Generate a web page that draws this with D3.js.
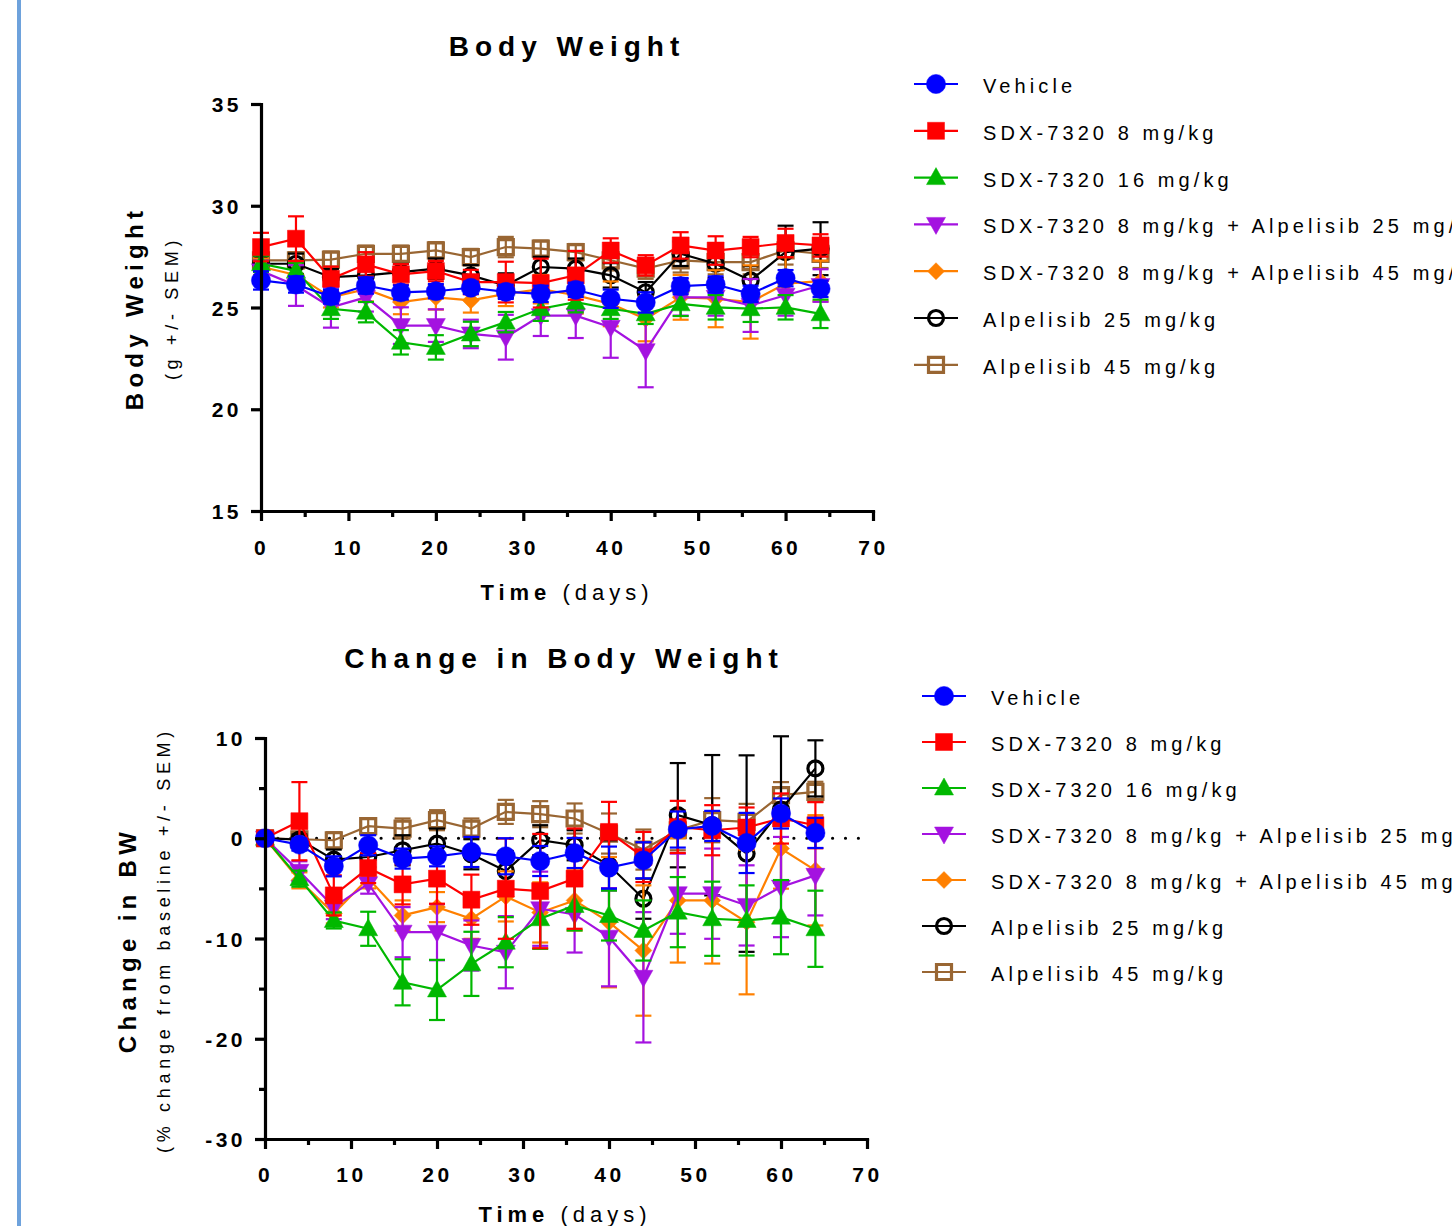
<!DOCTYPE html>
<html><head><meta charset="utf-8">
<script src="https://cdn.jsdelivr.net/npm/d3@7"></script>
<style>
body{margin:0;background:#fff;overflow:hidden}
svg{display:block}
text{font-family:"Liberation Sans",Arial,sans-serif;fill:#000}
</style></head>
<body><svg id="c" width="1452" height="1226"></svg>
<script>
// ---------- DATA ----------
const days = [0,4,8,12,16,20,24,28,32,36,40,44,48,52,56,60,64];
const seriesNames = ["Vehicle","SDX-7320 8 mg/kg","SDX-7320 16 mg/kg","SDX-7320 8 mg/kg + Alpelisib 25 mg/kg","SDX-7320 8 mg/kg + Alpelisib 45 mg/kg","Alpelisib 25 mg/kg","Alpelisib 45 mg/kg"];
const seriesColors = ["#0000ff","#ff0000","#00b800","#a412e0","#ff8000","#000000","#996633"];
const seriesShapes = ["circle","square","triangle","triangleDown","diamond","openCircle","openSquare"];

// Body weight (g)
const bwVehicle = [26.33,26.13,25.54,26.08,25.74,25.80,25.97,25.77,25.67,25.87,25.43,25.25,26.05,26.13,25.67,26.44,25.92];
const bwSdx8    = [27.97,28.38,26.41,27.12,26.63,26.79,26.25,26.25,26.20,26.58,27.80,27.07,28.05,27.80,27.97,28.17,28.05];
const bwSdx16   = [27.15,26.80,24.94,24.77,23.29,23.04,23.70,24.28,24.94,25.26,24.94,24.69,25.18,25.01,24.94,25.01,24.69];
const bwCombo25 = [26.80,26.08,25.01,25.50,24.11,24.11,23.70,23.54,24.60,24.60,24.03,22.88,25.50,25.50,25.10,25.60,26.08];
const bwCombo45 = [27.00,26.60,25.50,25.90,25.27,25.50,25.35,25.67,25.90,25.60,25.18,24.44,25.50,25.43,25.27,26.17,26.30];
const bwAlp25   = [27.15,27.15,26.49,26.58,26.74,26.91,26.58,26.08,26.99,26.91,26.58,25.75,27.64,27.15,26.33,27.72,27.89];
const bwAlp45   = [27.32,27.32,27.35,27.64,27.64,27.81,27.48,27.97,27.89,27.72,27.32,26.91,27.32,27.23,27.23,27.81,27.64];
// Body weight SEM
const bwVehicleSem = [0.45,0.4,0.35,0.4,0.35,0.35,0.3,0.35,0.4,0.35,0.45,0.5,0.4,0.4,0.4,0.4,0.4];
const bwSdx8Sem    = [0.7,1.1,0.6,0.6,0.5,0.5,0.6,1.0,1.2,1.2,0.6,0.5,0.65,0.7,0.5,0.7,0.55];
const bwSdx16Sem   = [0.4,0.4,0.5,0.5,0.6,0.6,0.6,0.5,0.6,0.5,0.5,0.5,0.6,0.6,0.65,0.6,0.7];
const bwCombo25Sem = [0.5,1.0,1.0,0.7,0.9,0.8,0.7,1.1,1.0,1.1,1.5,1.8,0.9,0.9,1.3,1.0,0.8];
const bwCombo45Sem = [0.4,0.5,0.5,0.6,0.6,0.6,0.6,0.6,0.7,0.9,1.1,1.1,1.1,1.4,1.8,1.3,1.0];
const bwAlp25Sem   = [0.4,0.5,0.4,0.4,0.4,0.5,0.5,0.6,0.5,0.5,0.6,0.5,0.6,0.7,0.7,1.3,1.3];
const bwAlp45Sem   = [0.3,0.4,0.4,0.4,0.4,0.4,0.4,0.5,0.4,0.4,0.5,0.5,0.6,0.6,0.6,0.7,0.7];

// Change in body weight (%)
const chVehicle = [0,-0.63,-2.8,-0.7,-2.03,-1.8,-1.37,-1.8,-2.27,-1.47,-2.93,-2.2,0.87,1.23,-0.47,2.47,0.53];
const chSdx8    = [0,1.7,-5.7,-2.97,-4.6,-4.03,-6.13,-5.03,-5.27,-4.03,0.63,-1.87,1.13,0.8,1.07,1.97,1.3];
const chSdx16   = [0,-4.03,-8.2,-9.03,-14.37,-15.13,-12.53,-10.37,-8.03,-6.7,-7.7,-9.2,-7.37,-8.03,-8.2,-7.87,-9.03];
const chCombo25 = [0,-3.3,-6.87,-4.53,-9.37,-9.37,-10.7,-11.37,-7.03,-7.6,-9.87,-13.87,-5.53,-5.53,-6.7,-4.87,-3.7];
const chCombo45 = [0,-4.2,-7.5,-4.0,-7.7,-6.87,-8.03,-5.8,-7.4,-6.2,-8.37,-11.2,-6.2,-6.2,-8.37,-1.03,-3.2];
const chAlp25   = [0,-0.13,-2.13,-1.87,-1.2,-0.53,-1.6,-3.27,-0.2,-0.7,-2.7,-6.03,2.3,1.3,-1.53,2.87,6.97];
const chAlp45   = [0,-0.1,-0.2,1.2,0.97,1.8,0.97,2.63,2.4,1.97,0.47,-1.13,0.8,1.8,1.63,4.3,4.63];
// Change SEM
const chVehicleSem = [0,0.6,1.0,1.0,1.0,1.0,1.5,1.8,1.5,1.5,2.1,1.8,1.8,1.5,3.0,1.5,1.5];
const chSdx8Sem    = [0,3.9,2.0,1.5,2.0,2.5,2.5,5.0,5.7,5.0,3.0,2.5,2.6,2.5,2.0,2.5,2.3];
const chSdx16Sem   = [0,0.8,0.8,1.7,2.3,3.0,3.2,2.5,3.0,2.5,2.5,3.0,3.5,3.7,3.5,3.7,3.8];
const chCombo25Sem = [0,1.0,1.2,1.0,2.5,2.8,2.5,3.6,3.7,3.8,4.9,6.5,4.0,4.5,4.0,5.0,4.0];
const chCombo45Sem = [0,0.8,1.0,1.0,1.5,1.5,2.0,2.5,3.0,3.0,6.5,6.5,6.2,6.3,7.2,4.0,5.5];
const chAlp25Sem   = [0,0.5,1.0,1.0,1.5,1.5,1.5,2.0,1.5,1.5,2.5,2.0,5.2,7.0,9.8,7.3,2.8];
const chAlp45Sem   = [0,0.5,0.8,0.8,1.0,1.0,1.0,1.2,1.3,1.5,2.0,2.0,2.0,2.2,1.8,1.3,1.0];

const xTicks = [0,10,20,30,40,50,60,70];
const xMinorTicks = [5,15,25,35,45,55,65];
const bwYTicks = [15,20,25,30,35];
const chYTicks = [-30,-20,-10,0,10];
const chYMinorTicks = [-25,-15,-5,5];

const bwValues = [bwVehicle,bwSdx8,bwSdx16,bwCombo25,bwCombo45,bwAlp25,bwAlp45];
const bwSems = [bwVehicleSem,bwSdx8Sem,bwSdx16Sem,bwCombo25Sem,bwCombo45Sem,bwAlp25Sem,bwAlp45Sem];
const chValues = [chVehicle,chSdx8,chSdx16,chCombo25,chCombo45,chAlp25,chAlp45];
const chSems = [chVehicleSem,chSdx8Sem,chSdx16Sem,chCombo25Sem,chCombo45Sem,chAlp25Sem,chAlp45Sem];

// ---------- DRAW ----------
const svg = d3.select("#c");
svg.append("rect").attr("x",17).attr("y",0).attr("width",4).attr("height",1226).attr("fill","#6ea2dc");

function markerPath(shape){
  switch(shape){
    case "circle": return d3.symbol(d3.symbolCircle, 290)();
    case "square": return "M-8.5,-8.5H8.5V8.5H-8.5Z";
    case "triangle": return "M0,-10L9.5,7L-9.5,7Z";
    case "triangleDown": return "M0,10L9.5,-7L-9.5,-7Z";
    case "diamond": return "M0,-8.5L8.5,0L0,8.5L-8.5,0Z";
    case "openCircle": return d3.symbol(d3.symbolCircle, Math.PI*7.5*7.5)();
    case "openSquare": return "M-7.5,-7.5H7.5V7.5H-7.5Z";
  }
}
function styleMarker(sel, i){
  const open = seriesShapes[i].startsWith("open");
  sel.attr("d", markerPath(seriesShapes[i]))
     .attr("fill", open ? "none" : seriesColors[i])
     .attr("stroke", seriesColors[i])
     .attr("stroke-width", open ? 3.2 : 0.5);
}
const fmt = d => String(d);

function drawChart(cfg){
  const g = svg.append("g");
  const x = d3.scaleLinear().domain([0,70]).range(cfg.xRange);
  const y = d3.scaleLinear().domain(cfg.yDomain).range(cfg.yRange);
  const y0 = cfg.yRange[0];

  if(cfg.zeroLine){
    g.append("line").attr("x1",x(0)).attr("x2",x(70)).attr("y1",y(0)).attr("y2",y(0))
     .attr("stroke","#000").attr("stroke-width",3.2).attr("stroke-linecap","round")
     .attr("stroke-dasharray","0,12.9");
  }

  for(let i = seriesNames.length-1; i >= 0; i--){
    const vals = cfg.values[i], sems = cfg.sems[i], col = seriesColors[i];
    const sg = g.append("g");
    const pts = days.map((d,k)=>({d, v:vals[k], e:sems[k]}));
    const eb = sg.selectAll(null).data(pts.filter(p=>p.e>0)).join("g").attr("stroke",col).attr("stroke-width",2.2);
    eb.append("line").attr("x1",p=>x(p.d)).attr("x2",p=>x(p.d)).attr("y1",p=>y(p.v-p.e)).attr("y2",p=>y(p.v+p.e));
    eb.append("line").attr("x1",p=>x(p.d)-8).attr("x2",p=>x(p.d)+8).attr("y1",p=>y(p.v+p.e)).attr("y2",p=>y(p.v+p.e));
    eb.append("line").attr("x1",p=>x(p.d)-8).attr("x2",p=>x(p.d)+8).attr("y1",p=>y(p.v-p.e)).attr("y2",p=>y(p.v-p.e));
    sg.append("path").datum(pts).attr("fill","none").attr("stroke",col).attr("stroke-width",2.2)
      .attr("d", d3.line().x(p=>x(p.d)).y(p=>y(p.v)));
    sg.selectAll(null).data(pts).join("path")
      .attr("transform",p=>`translate(${x(p.d)},${y(p.v)})`)
      .call(s=>styleMarker(s,i));
  }

  g.append("g").attr("transform",`translate(0,${y0})`)
    .call(d3.axisBottom(x).tickValues(xTicks).tickSize(10).tickSizeOuter(0).tickPadding(cfg.xPad).tickFormat(fmt));
  const xm = g.append("g").attr("transform",`translate(0,${y0})`)
    .call(d3.axisBottom(x).tickValues(xMinorTicks).tickSize(6).tickSizeOuter(0).tickFormat(""));
  xm.select(".domain").remove();
  const ya = g.append("g").attr("transform",`translate(${cfg.xRange[0]},0)`)
    .call(d3.axisLeft(y).tickValues(cfg.yTicks).tickSize(10).tickSizeOuter(0).tickPadding(9).tickFormat(fmt));
  if(cfg.yMinor){
    const ym = g.append("g").attr("transform",`translate(${cfg.xRange[0]},0)`)
      .call(d3.axisLeft(y).tickValues(cfg.yMinor).tickSize(6).tickSizeOuter(0).tickFormat(""));
    ym.select(".domain").remove();
  }
  g.selectAll(".domain").attr("stroke","#000").attr("stroke-width",3.2).attr("stroke-linecap","square");
  g.selectAll(".tick line").attr("stroke","#000").attr("stroke-width",3.2);
  g.selectAll(".tick text").attr("font-family","Liberation Sans, Arial, sans-serif")
    .attr("font-size",21).attr("font-weight","bold").attr("letter-spacing","3.5px").attr("fill","#000");
  ya.selectAll(".tick text").attr("dy","0.36em");

  g.append("text").attr("x",cfg.titleX).attr("y",cfg.titleY).attr("text-anchor","middle")
    .attr("font-size",28).attr("font-weight","bold").attr("letter-spacing","6px").text(cfg.title);

  const xt = g.append("text").attr("x",cfg.xTitleX).attr("y",cfg.xTitleY).attr("text-anchor","middle")
    .attr("font-size",22).attr("letter-spacing","5px");
  xt.append("tspan").attr("font-weight","bold").text("Time");
  xt.append("tspan").text(" (days)");

  g.append("text").attr("transform",`translate(${cfg.yTitleX},${cfg.yTitleY}) rotate(-90)`).attr("text-anchor","middle")
    .attr("font-size",24).attr("font-weight","bold").attr("letter-spacing","5.3px").text(cfg.yTitle);
  g.append("text").attr("transform",`translate(${cfg.ySubX},${cfg.yTitleY}) rotate(-90)`).attr("text-anchor","middle")
    .attr("font-size",18).attr("letter-spacing","4.7px").text(cfg.ySub);

  const lg = g.append("g");
  seriesNames.forEach((name,i)=>{
    const ly = cfg.legendY + i*cfg.legendStep;
    const row = lg.append("g").attr("transform",`translate(${cfg.legendX},${ly})`);
    row.append("line").attr("x1",0).attr("x2",44).attr("y1",0).attr("y2",0).attr("stroke",seriesColors[i]).attr("stroke-width",2.2);
    row.append("path").attr("transform","translate(22,0)").call(s=>styleMarker(s,i));
    row.append("text").attr("x",69).attr("y",9).attr("font-size",20).attr("letter-spacing","4.1px").attr("fill","#111").text(name);
  });
}

drawChart({
  xRange:[261,873], yDomain:[15,35], yRange:[511,104], yTicks:bwYTicks, yMinor:null,
  values:bwValues, sems:bwSems, zeroLine:false, xPad:19,
  title:"Body Weight", titleX:567, titleY:56,
  xTitleX:567, xTitleY:600,
  yTitle:"Body Weight", ySub:"(g +/- SEM)", yTitleX:143, ySubX:178, yTitleY:308,
  legendX:914, legendY:84, legendStep:46.8
});
drawChart({
  xRange:[265,867], yDomain:[-30,10], yRange:[1139,738], yTicks:chYTicks, yMinor:chYMinorTicks,
  values:chValues, sems:chSems, zeroLine:true, xPad:18,
  title:"Change in Body Weight", titleX:564, titleY:668,
  xTitleX:565, xTitleY:1222,
  yTitle:"Change in BW", ySub:"(% change from baseline +/- SEM)", yTitleX:136, ySubX:170, yTitleY:940,
  legendX:922, legendY:696, legendStep:46
});
</script></body></html>
